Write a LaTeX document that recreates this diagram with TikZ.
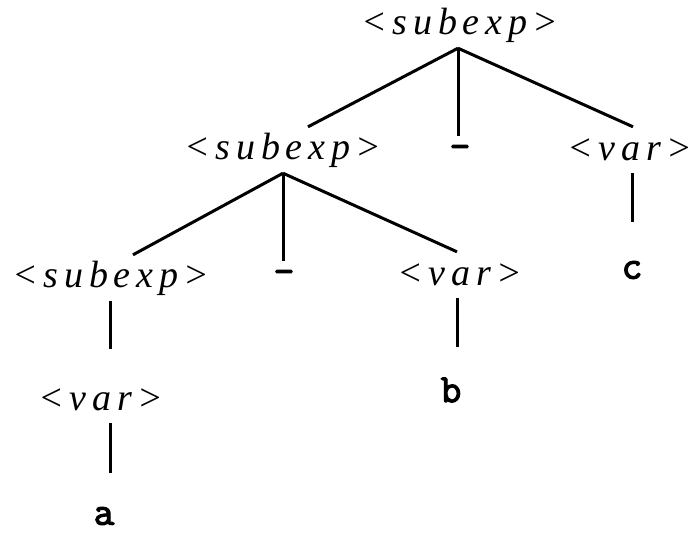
\documentclass[tikz,border=0pt]{standalone}
\usepackage{fontspec}
\newfontfamily\ntfont[LetterSpace=15]{Liberation Serif}
\newfontfamily\tmfont[FakeBold=3]{Latin Modern Mono}

\tikzstyle{nterm} = [inner sep=0pt,minimum height=46pt,font=\fontsize{38}{44}\ntfont\itshape]
\tikzstyle{term} = [inner sep=0pt,minimum height=46pt,font=\fontsize{40}{46}\tmfont]
\tikzstyle{edge} = [line width=3pt]

\begin{document}
\begin{tikzpicture}[x=1pt,y=-1pt]
	\useasboundingbox (0,0) rectangle (691,533);
	\node[nterm] (s1) at (460,25) {<subexp>};
	\node[nterm] (s2) at (283,150) {<subexp>};
	\node[term] (m1) at (460,152) {-};
	\node[nterm] (v1) at (630,150) {<var>};
	\node[term] (c) at (632,270) {c};
	\node[nterm] (s3) at (111,278) {<subexp>};
	\node[term] (m2) at (284,277) {-};
	\node[nterm] (v2) at (460,275) {<var>};
	\node[term] (b) at (451,390) {b};
	\node[nterm] (v3) at (101,400) {<var>};
	\node[term] (a) at (104,516) {a};
	\draw[edge] ([xshift=-2pt]s1.south) -- ([xshift=25pt]s2.north);
	\draw[edge] ([xshift=-2pt]s1.south) -- ([xshift=-2pt,yshift=-7pt]m1.north);
	\draw[edge] ([xshift=-2pt]s1.south) -- ([xshift=3pt]v1.north);
	\draw[edge] (s2.south) -- ([xshift=22pt]s3.north);
	\draw[edge] (s2.south) -- ([xshift=-1pt,yshift=-7pt]m2.north);
	\draw[edge] (s2.south) -- ([xshift=-3pt]v2.north);
	\draw[edge,shorten >=25pt] ([xshift=2pt]v1.south) -- (c.north);
	\draw[edge,shorten >=28pt] ([xshift=-1pt]s3.south) -- ([xshift=9pt]v3.north);
	\draw[edge,shorten >=20pt] ([xshift=-3pt]v2.south) -- ([xshift=6pt]b.north);
	\draw[edge,shorten >=20pt] ([xshift=9pt]v3.south) -- ([xshift=6pt]a.north);
\end{tikzpicture}
\end{document}
